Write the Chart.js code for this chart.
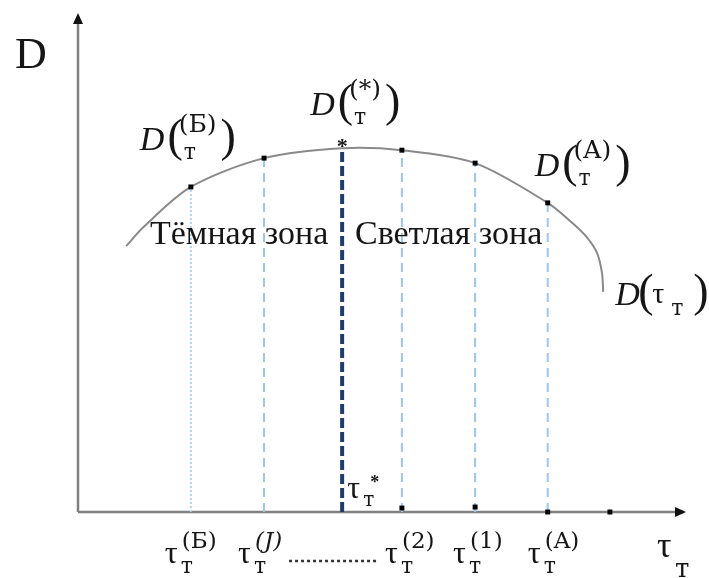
<!DOCTYPE html>
<html>
<head>
<meta charset="utf-8">
<script src="https://cdn.jsdelivr.net/npm/chart.js@4"></script>
<style>
  html, body { margin: 0; padding: 0; background: #fff; }
  #wrap { width: 709px; height: 578px; position: relative; }
</style>
</head>
<body>
<div id="wrap"><canvas id="myChart"></canvas></div>
<script>
// curve D(τт)
const curveTau = [0.79, 1.07, 1.85, 3.05, 4.33, 5.31, 6.51, 7.70, 8.11, 8.34, 8.51, 8.59, 8.61];
const curveD   = [5.35, 5.73, 6.54, 7.12, 7.32, 7.28, 7.02, 6.22, 5.81, 5.53, 5.21, 4.81, 4.43];

// marked regimes on the curve
const markNames = ['(Б)', '(J)', '(2)', '(1)', '(A)'];
const markTau   = [1.85, 3.05, 5.31, 6.51, 7.70];
const markD     = [6.54, 7.12, 7.28, 7.02, 6.22];

// optimum τт*
const optTau = 4.33;
const optD   = 7.32;

// points on the τт axis
const axisTau = [5.31, 6.51, 7.70, 8.72];
const axisD   = [0.08, 0.1, 0, 0];

const SERIF = '"Liberation Serif", "Times New Roman", serif';
const WIDE = '"DejaVu Serif", serif';
const INK = '#161616';

function pt(xs, ys) {
  return xs.map((x, i) => ({ x: x, y: ys[i] }));
}

// dashed drops from the curve to the axis
const drops = markTau.map((t, i) => ({
  data: [{ x: t, y: 0 }, { x: t, y: markD[i] }],
  borderColor: i === 0 ? '#b7d3ee' : '#9fc5e8',
  borderWidth: 2,
  borderDash: i === 0 ? [2, 2] : [9, 6],
  pointRadius: 0
}));

function drawBinom(ctx, x, y, sup) {
  ctx.font = 'italic 34px ' + SERIF;
  ctx.fillText('D', x, y);
  x += ctx.measureText('D').width + 3;
  ctx.font = '46px ' + SERIF;
  ctx.fillText('(', x, y + 1);
  x += ctx.measureText('(').width - 4;
  ctx.font = '25px ' + WIDE;
  ctx.fillText(sup, x, y - 18);
  const w = ctx.measureText(sup).width;
  ctx.font = '22px ' + WIDE;
  ctx.fillText('т', x + 5, y + 9);
  ctx.font = '46px ' + SERIF;
  ctx.fillText(')', x + w + 4, y + 1);
}

function drawTau(ctx, x, y, sup, italic) {
  ctx.font = '32px ' + SERIF;
  ctx.fillText('τ', x, y);
  ctx.font = '22px ' + WIDE;
  ctx.fillText('т', x + 16, y + 10);
  ctx.font = (italic ? 'italic ' : '') + '23px ' + WIDE;
  ctx.fillText(sup, x + 17, y - 15);
}

const axesPlugin = {
  id: 'axes',
  beforeDatasetsDraw(chart) {
    const ctx = chart.ctx;
    const a = chart.chartArea;
    ctx.save();
    ctx.strokeStyle = '#808080';
    ctx.lineWidth = 2.5;
    ctx.beginPath();
    ctx.moveTo(a.left, a.bottom);
    ctx.lineTo(a.left, a.top + 4);
    ctx.moveTo(a.left, a.bottom);
    ctx.lineTo(a.right - 6, a.bottom);
    ctx.stroke();
    ctx.fillStyle = '#111';
    ctx.beginPath();
    ctx.moveTo(a.left, a.top - 2);
    ctx.lineTo(a.left - 5, a.top + 9);
    ctx.lineTo(a.left + 5, a.top + 9);
    ctx.closePath();
    ctx.fill();
    ctx.beginPath();
    ctx.moveTo(a.right - 2, a.bottom);
    ctx.lineTo(a.right - 13, a.bottom - 5);
    ctx.lineTo(a.right - 13, a.bottom + 5);
    ctx.closePath();
    ctx.fill();
    ctx.restore();
  },
  afterDatasetsDraw(chart) {
    const ctx = chart.ctx;
    const xs = chart.scales.x, ys = chart.scales.y;
    const X = v => xs.getPixelForValue(v);
    const Y = v => ys.getPixelForValue(v);
    ctx.save();
    ctx.fillStyle = INK;
    ctx.textBaseline = 'alphabetic';

    // axis name
    ctx.font = '44px ' + SERIF;
    ctx.fillText('D', 15, 68);

    // curve labels
    drawBinom(ctx, X(markTau[0]) - 51, Y(markD[0]) - 37, '(Б)');
    drawBinom(ctx, X(optTau) - 32, Y(optD) - 33, '(*)');
    drawBinom(ctx, X(markTau[4]) - 13, Y(markD[4]) - 27, '(A)');

    // optimum marker
    ctx.font = 'bold 22px ' + SERIF;
    ctx.textAlign = 'center';
    ctx.fillText('*', X(optTau), Y(optD) + 5);
    ctx.textAlign = 'left';

    // D(τт) at the end of the curve
    const ex = X(curveTau[curveTau.length - 1]) + 12;
    const ey = Y(curveD[curveD.length - 1]) + 13;
    ctx.font = 'italic 34px ' + SERIF;
    ctx.fillText('D', ex, ey);
    ctx.font = '46px ' + SERIF;
    ctx.fillText('(', ex + 23, ey + 1);
    ctx.font = '30px ' + SERIF;
    ctx.fillText('τ', ex + 37, ey - 2);
    ctx.font = '22px ' + WIDE;
    ctx.fillText('т', ex + 56, ey + 10);
    ctx.font = '46px ' + SERIF;
    ctx.fillText(')', ex + 78, ey + 1);

    // zones
    ctx.font = '34px ' + SERIF;
    ctx.fillText('Тёмная зона', 150, 244);
    ctx.fillText('Светлая зона', 355, 244);

    // τт tick labels
    const base = Y(0) + 51;
    const shift = [-26, -26, -17, -22, -20];
    markNames.forEach((n, i) => {
      drawTau(ctx, X(markTau[i]) + shift[i], base, n, n === '(J)');
    });

    // leader between τт(J) and τт(2)
    ctx.strokeStyle = '#333';
    ctx.lineWidth = 2.5;
    ctx.setLineDash([3, 3]);
    ctx.beginPath();
    ctx.moveTo(X(markTau[1]) + 25, base - 2);
    ctx.lineTo(X(markTau[2]) - 23, base - 2);
    ctx.stroke();
    ctx.setLineDash([]);

    // τт*
    const sx = X(optTau) + 5, sy = Y(0) - 14;
    ctx.font = '32px ' + SERIF;
    ctx.fillText('τ', sx, sy);
    ctx.font = '20px ' + WIDE;
    ctx.fillText('т', sx + 16, sy + 8);
    ctx.font = 'bold 18px ' + SERIF;
    ctx.fillText('*', sx + 23, sy - 10);

    // axis name τт
    const tx = X(10) - 31, ty = Y(0) + 45;
    ctx.font = '36px ' + SERIF;
    ctx.fillText('τ', tx, ty);
    ctx.font = '26px ' + WIDE;
    ctx.fillText('т', tx + 18, ty + 20);

    ctx.restore();
  }
};

const ctx = document.getElementById('myChart').getContext('2d');
const chart = new Chart(ctx, {
  type: 'line',
  data: {
    datasets: [
      {
        // black marks on the curve
        data: pt(markTau, markD),
        showLine: false,
        pointStyle: 'rect',
        pointRadius: 3.5,
        pointBackgroundColor: '#000',
        pointBorderWidth: 0,
        clip: false
      },
      {
        // black marks on the axis
        data: pt(axisTau, axisD),
        showLine: false,
        pointStyle: 'rect',
        pointRadius: 3.5,
        pointBackgroundColor: '#000',
        pointBorderWidth: 0,
        clip: false
      },
      {
        // the optimum drop line
        data: [{ x: optTau, y: 0 }, { x: optTau, y: optD }],
        borderColor: '#203a6e',
        borderWidth: 4,
        borderDash: [10, 4],
        pointRadius: 0
      },
      ...drops,
      {
        data: pt(curveTau, curveD),
        borderColor: '#8a8a8a',
        borderWidth: 2,
        pointRadius: 0,
        tension: 0.3
      }
    ]
  },
  options: {
    responsive: true,
    maintainAspectRatio: false,
    animation: false,
    layout: { padding: { left: 78, right: 21, top: 15, bottom: 66 } },
    plugins: { legend: { display: false }, tooltip: { enabled: false } },
    scales: {
      x: { type: 'linear', min: 0, max: 10, display: false },
      y: { type: 'linear', min: 0, max: 10, display: false }
    }
  },
  plugins: [axesPlugin]
});
</script>
</body>
</html>
